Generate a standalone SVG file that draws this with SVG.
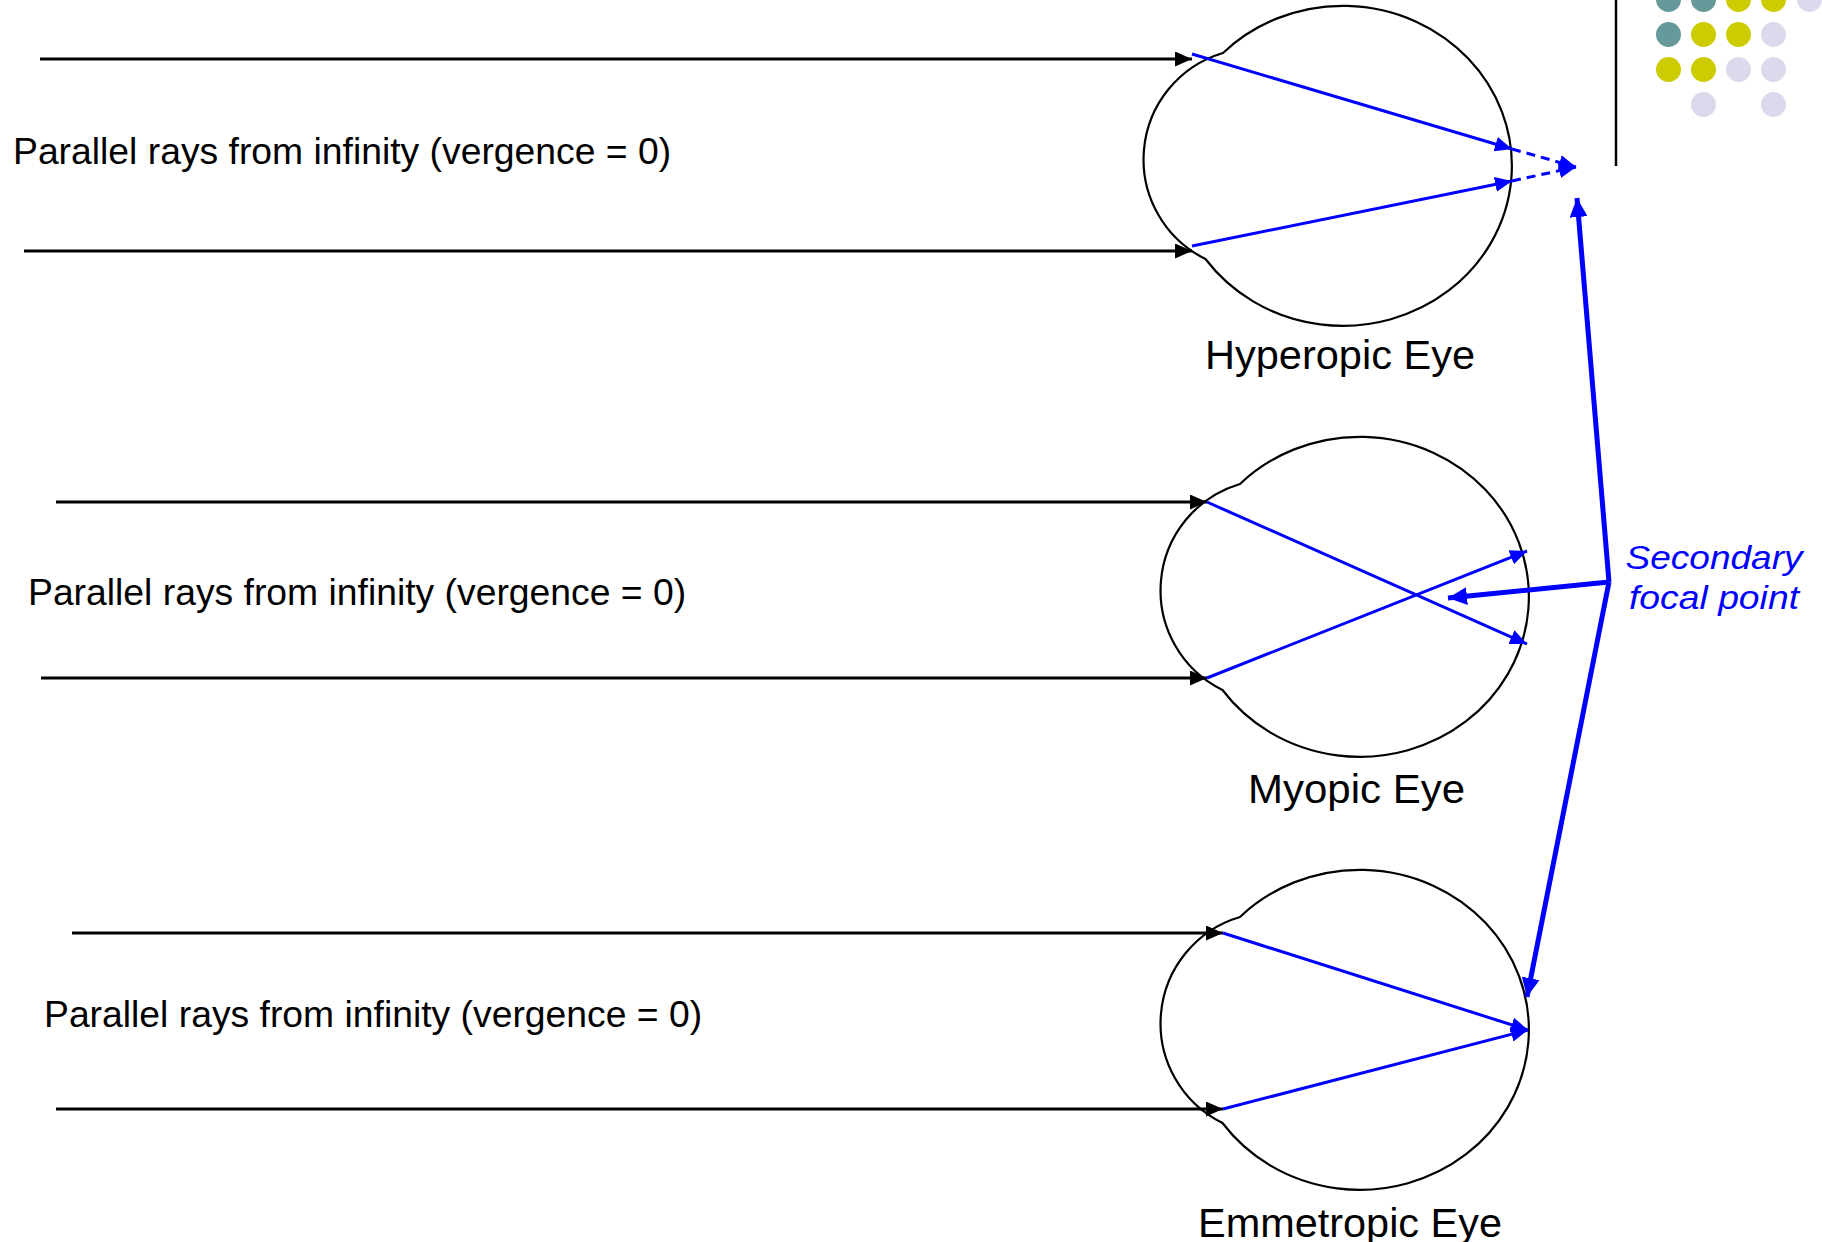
<svg xmlns="http://www.w3.org/2000/svg" width="1822" height="1242" viewBox="0 0 1822 1242">
  <style>
    .eye { fill: #ffffff; stroke: #000000; stroke-width: 2.2; }
    .incoming { stroke: #000000; stroke-width: 3; fill: none; marker-end: url(#headBlack); }
    .ray { stroke: #0000ff; stroke-width: 3; fill: none; marker-end: url(#headBlue); }
    .virtual { stroke: #0000ff; stroke-width: 3; fill: none; stroke-dasharray: 9 6; marker-end: url(#headBlue); }
    .pointer { stroke: #0000ff; stroke-width: 5; fill: none; marker-end: url(#headBold); }
    .label { font-family: "Liberation Sans", Arial, sans-serif; fill: #000000; }
    .rays-label { font-size: 37.3px; }
    .eye-label { font-size: 40px; }
    .focal { font-family: "Liberation Sans", Arial, sans-serif; font-size: 34px; font-style: italic; fill: #0000ff; text-anchor: middle; }
    .teal { fill: #669999; }
    .olive { fill: #cccc00; }
    .lilac { fill: #dadaec; }
  </style>
  <defs>
    <marker id="headBlack" markerUnits="userSpaceOnUse" markerWidth="17" markerHeight="15" refX="17" refY="7.5" orient="auto">
      <path d="M0,0 L17,7.5 L0,15 z" fill="#000000"/>
    </marker>
    <marker id="headBlue" markerUnits="userSpaceOnUse" markerWidth="17" markerHeight="15" refX="17" refY="7.5" orient="auto">
      <path d="M0,0 L17,7.5 L0,15 z" fill="#0000ff"/>
    </marker>
    <marker id="headBold" markerUnits="userSpaceOnUse" markerWidth="19" markerHeight="18" refX="19" refY="9" orient="auto">
      <path d="M0,0 L19,9 L0,18 z" fill="#0000ff"/>
    </marker>
    <!-- eyeball outline centred on the globe: large globe arc plus the corneal bulge -->
    <path id="eyeShape" d="M-120,-113 A169,160 0 1 1 -137.5,93 A111,111 0 0 1 -120,-113 Z"/>
  </defs>

  <rect width="1822" height="1242" fill="#ffffff"/>

  <!-- corner ornament -->
  <g id="ornament">
    <line x1="1616" y1="0" x2="1616" y2="166" stroke="#000000" stroke-width="2.5"/>
    <circle class="teal" cx="1668.5" cy="-0.5" r="12.5"/>
    <circle class="teal" cx="1703.5" cy="-0.5" r="12.5"/>
    <circle class="olive" cx="1738.5" cy="-0.5" r="12.5"/>
    <circle class="olive" cx="1773.5" cy="-0.5" r="12.5"/>
    <circle class="lilac" cx="1809.5" cy="-0.5" r="12.5"/>
    <circle class="teal" cx="1668.5" cy="34.5" r="12.5"/>
    <circle class="olive" cx="1703.5" cy="34.5" r="12.5"/>
    <circle class="olive" cx="1738.5" cy="34.5" r="12.5"/>
    <circle class="lilac" cx="1773.5" cy="34.5" r="12.5"/>
    <circle class="olive" cx="1668.5" cy="69.5" r="12.5"/>
    <circle class="olive" cx="1703.5" cy="69.5" r="12.5"/>
    <circle class="lilac" cx="1738.5" cy="69.5" r="12.5"/>
    <circle class="lilac" cx="1773.5" cy="69.5" r="12.5"/>
    <circle class="lilac" cx="1703.5" cy="104.5" r="12.5"/>
    <circle class="lilac" cx="1773.5" cy="104.5" r="12.5"/>
  </g>

  <!-- eyes -->
  <g id="eye-hyperopic">
    <use href="#eyeShape" class="eye" transform="translate(1343,166)"/>
    <text class="label eye-label" x="1205" y="369" textLength="270" lengthAdjust="spacingAndGlyphs">Hyperopic Eye</text>
  </g>
  <g id="eye-myopic">
    <use href="#eyeShape" class="eye" transform="translate(1360,597)"/>
    <text class="label eye-label" x="1248" y="803" textLength="217" lengthAdjust="spacingAndGlyphs">Myopic Eye</text>
  </g>
  <g id="eye-emmetropic">
    <use href="#eyeShape" class="eye" transform="translate(1360,1030)"/>
    <text class="label eye-label" x="1198" y="1237" textLength="304" lengthAdjust="spacingAndGlyphs">Emmetropic Eye</text>
  </g>

  <!-- incoming ray captions -->
  <g id="caption-1"><text class="label rays-label" x="13" y="164">Parallel rays from infinity (vergence = 0)</text></g>
  <g id="caption-2"><text class="label rays-label" x="28" y="605">Parallel rays from infinity (vergence = 0)</text></g>
  <g id="caption-3"><text class="label rays-label" x="44" y="1027">Parallel rays from infinity (vergence = 0)</text></g>

  <!-- focal point callout -->
  <g id="focal-label">
    <text class="focal" x="1714" y="569" textLength="177" lengthAdjust="spacingAndGlyphs">Secondary</text>
    <text class="focal" x="1714" y="609" textLength="170" lengthAdjust="spacingAndGlyphs">focal point</text>
  </g>

  <g id="connectors">
    <!-- parallel rays entering each eye -->
    <line class="incoming" x1="40" y1="59" x2="1192" y2="59"/>
    <line class="incoming" x1="24" y1="251" x2="1192" y2="251"/>
    <line class="incoming" x1="56" y1="502" x2="1207" y2="502"/>
    <line class="incoming" x1="41" y1="678" x2="1207" y2="678"/>
    <line class="incoming" x1="72" y1="933" x2="1223" y2="933"/>
    <line class="incoming" x1="56" y1="1109" x2="1223" y2="1109"/>

    <!-- refracted rays: hyperopic focus falls behind the retina -->
    <line class="ray" x1="1192" y1="54" x2="1512" y2="149"/>
    <line class="ray" x1="1192" y1="246" x2="1512" y2="181"/>
    <line class="virtual" x1="1512" y1="149" x2="1576" y2="167"/>
    <line class="virtual" x1="1512" y1="181" x2="1576" y2="167"/>

    <!-- myopic: rays cross in front of the retina -->
    <line class="ray" x1="1207" y1="502" x2="1527" y2="644"/>
    <line class="ray" x1="1207" y1="678" x2="1527" y2="551"/>

    <!-- emmetropic: rays meet on the retina -->
    <line class="ray" x1="1223" y1="933" x2="1528" y2="1030"/>
    <line class="ray" x1="1223" y1="1109" x2="1528" y2="1030"/>

    <!-- callout pointers to each focal point -->
    <line class="pointer" x1="1609" y1="582" x2="1577" y2="198"/>
    <line class="pointer" x1="1609" y1="582" x2="1448" y2="598"/>
    <line class="pointer" x1="1609" y1="582" x2="1527" y2="997"/>
  </g>
</svg>
